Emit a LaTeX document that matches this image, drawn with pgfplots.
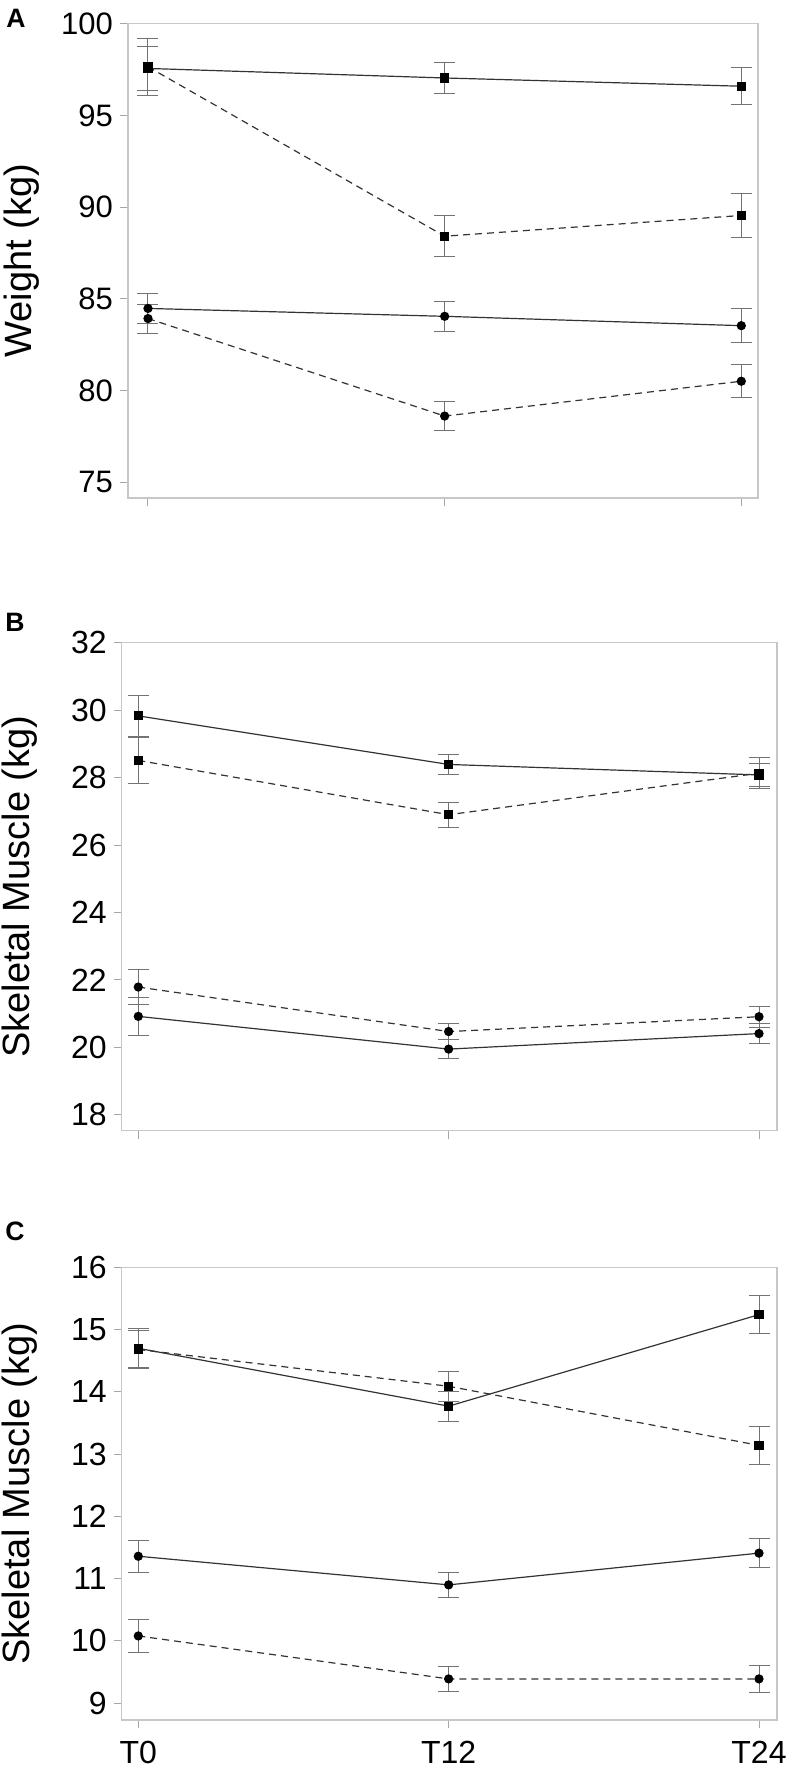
\documentclass[border=0pt]{standalone}
\usepackage{fontspec}
\setmainfont{Liberation Sans}
\usepackage{pgfplots}
\pgfplotsset{compat=1.18}
\pgfplotsset{
  common/.style={
    scale only axis,
    anchor=north west,
    axis line style={draw=black!22, line width=0.7pt},
    tick style={draw=black!35, line width=0.5pt},
    tick align=outside,
    major tick length=4pt,
    xtick={0,1,2},
    xtick pos=bottom, ytick pos=left,
    /pgf/number format/assume math mode=true,
    ticklabel style={font=\fontsize{16}{19}\selectfont, black},
    xticklabel style={yshift=-3pt},
    ylabel style={anchor=center, font=\fontsize{19}{22}\selectfont},
    clip=false,
  },
  eb/.style={
    /pgfplots/error bars/y dir=both, /pgfplots/error bars/y explicit,
    /pgfplots/error bars/error mark=-,
    /pgfplots/error bars/error bar style={solid, black!55, line width=0.5pt},
    /pgfplots/error bars/error mark options={rotate=90, solid, black!55, line width=0.5pt, mark size=5.25pt}},
  sol/.style={black!80, line width=0.6pt, solid,
    mark options={solid, fill=black, draw=black, mark size=2pt}, eb},
  das/.style={black!80, line width=0.6pt, dash pattern=on 3.5pt off 2.5pt,
    mark options={solid, fill=black, draw=black, mark size=2pt}, eb},
}
\begin{document}
\begin{tikzpicture}
\path[use as bounding box, fill=white] (0,0) rectangle (394.5pt,-884pt);

% Panel A
\begin{axis}[common, at={(64pt,-11.85pt)}, width=315pt, height=237.15pt,
  xmin=-0.0674, xmax=2.0563, ymin=74.13, ymax=100,
  ytick={75,80,...,100}, xticklabels={,,},
  ticklabel style={font=\fontsize{15.5}{18}\selectfont},
  ylabel={Weight (kg)}, ylabel style={at={(axis description cs:-0.168,0.5)}}]
\addplot[das, mark=square*] coordinates {(0,97.65) +- (0,1.56) (1,88.41) +- (0,1.12) (2,89.54) +- (0,1.18)};
\addplot[sol, mark=square*] coordinates {(0,97.56) +- (0,1.22) (1,97.04) +- (0,0.83) (2,96.59) +- (0,1.00)};
\addplot[sol, mark=*] coordinates {(0,84.47) +- (0,0.83) (1,84.04) +- (0,0.82) (2,83.53) +- (0,0.93)};
\addplot[das, mark=*] coordinates {(0,83.92) +- (0,0.79) (1,78.60) +- (0,0.81) (2,80.50) +- (0,0.91)};
\end{axis}

% Panel B
\begin{axis}[common, at={(60.85pt,-321.35pt)}, width=327.65pt, height=244pt,
  xmin=-0.0535, xmax=2.058, ymin=17.53, ymax=32,
  ytick={18,20,...,32}, xticklabels={,,},
  ylabel={Skeletal Muscle (kg)}, ylabel style={at={(axis description cs:-0.155,0.5)}}]
\addplot[sol, mark=square*] coordinates {(0,29.83) +- (0,0.60) (1,28.39) +- (0,0.29) (2,28.08) +- (0,0.35)};
\addplot[das, mark=square*] coordinates {(0,28.51) +- (0,0.68) (1,26.90) +- (0,0.37) (2,28.13) +- (0,0.46)};
\addplot[das, mark=*] coordinates {(0,21.79) +- (0,0.51) (1,20.47) +- (0,0.23) (2,20.91) +- (0,0.31)};
\addplot[sol, mark=*] coordinates {(0,20.92) +- (0,0.57) (1,19.95) +- (0,0.27) (2,20.41) +- (0,0.30)};
\end{axis}

% Panel C
\begin{axis}[common, at={(60.85pt,-633.65pt)}, width=327.65pt, height=226.35pt,
  xmin=-0.0535, xmax=2.058, ymin=8.73, ymax=16,
  ytick={9,10,...,16}, xticklabels={T0,T12,T24},
  ylabel={Skeletal Muscle (kg)}, ylabel style={at={(axis description cs:-0.155,0.5)}}]
\addplot[sol, mark=square*] coordinates {(0,14.70) +- (0,0.31) (1,13.77) +- (0,0.24) (2,15.24) +- (0,0.30)};
\addplot[das, mark=square*] coordinates {(0,14.68) +- (0,0.31) (1,14.09) +- (0,0.24) (2,13.14) +- (0,0.30)};
\addplot[sol, mark=*] coordinates {(0,11.36) +- (0,0.26) (1,10.90) +- (0,0.20) (2,11.41) +- (0,0.23)};
\addplot[das, mark=*] coordinates {(0,10.08) +- (0,0.26) (1,9.39) +- (0,0.20) (2,9.39) +- (0,0.22)};
\end{axis}

\node[anchor=north west, inner sep=0pt, font=\bfseries\fontsize{13.3}{16}\selectfont] at (3pt,-4.5pt) {A};
\node[anchor=north west, inner sep=0pt, font=\bfseries\fontsize{13.3}{16}\selectfont] at (2.5pt,-306.5pt) {B};
\node[anchor=north west, inner sep=0pt, font=\bfseries\fontsize{13.3}{16}\selectfont] at (2.5pt,-611pt) {C};
\end{tikzpicture}
\end{document}
